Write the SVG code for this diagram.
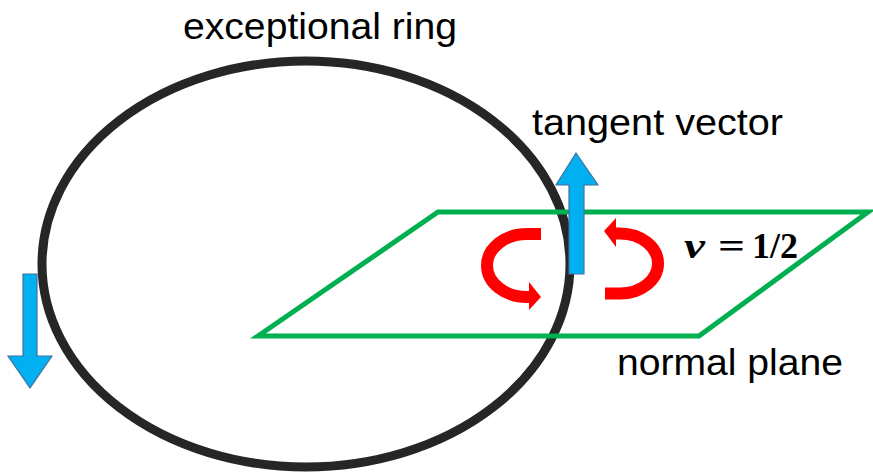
<svg xmlns="http://www.w3.org/2000/svg" width="873" height="472" viewBox="0 0 873 472">
<style>
.lbl{font-family:"Liberation Sans",Arial,sans-serif;font-size:37px;fill:#000}
.math{font-family:"Liberation Serif","DejaVu Serif",serif;font-size:35px;font-weight:bold;fill:#000}
.blue{fill:#00B0F0;stroke:#41719C;stroke-width:1.2}
.red{fill:none;stroke:#FF0000;stroke-width:12}
.redh{fill:#FF0000}
</style>
<rect width="873" height="472" fill="#fff"/>
<g id="ring">
<ellipse cx="306" cy="264" rx="264" ry="203" fill="none" stroke="#262626" stroke-width="9"/>
</g>
<g id="plane">
<polygon points="438,212 868,212 699,336 258,336" fill="none" stroke="#00B050" stroke-width="5"/>
</g>
<g id="connectors">
<g id="tangent-arrow">
<polygon class="blue" points="569,274 569,185 556,185 576,153 598,185 584,185 584,274"/>
</g>
<g id="down-arrow">
<polygon class="blue" points="23,274 37,274 37,356 52,356 30,388 8,356 23,356"/>
</g>
<g id="rot-left">
<path class="red" d="M 541 234 L 527 234 A 40 31.5 0 0 0 527 297 L 531 297"/>
<polygon class="redh" points="529,282 541,297 529,310"/>
</g>
<g id="rot-right">
<path class="red" d="M 605 293.5 L 620 293.5 A 38 30 0 0 0 620 233.5 L 614 233.5"/>
<polygon class="redh" points="616,218 604,231 616,247"/>
</g>
</g>
<g id="labels">
<text class="lbl" x="183" y="39" textLength="274" lengthAdjust="spacingAndGlyphs">exceptional ring</text>
<text class="lbl" x="532" y="135" textLength="251" lengthAdjust="spacingAndGlyphs">tangent vector</text>
<text class="lbl" x="617" y="375" textLength="226" lengthAdjust="spacingAndGlyphs">normal plane</text>
<text class="math" x="684" y="258" font-style="italic" font-size="40" textLength="21" lengthAdjust="spacingAndGlyphs">ν</text>
<text class="math" x="718" y="258" textLength="27" lengthAdjust="spacingAndGlyphs">=</text>
<text class="math" x="752" y="258" textLength="46" lengthAdjust="spacingAndGlyphs">1/2</text>
</g>
</svg>
